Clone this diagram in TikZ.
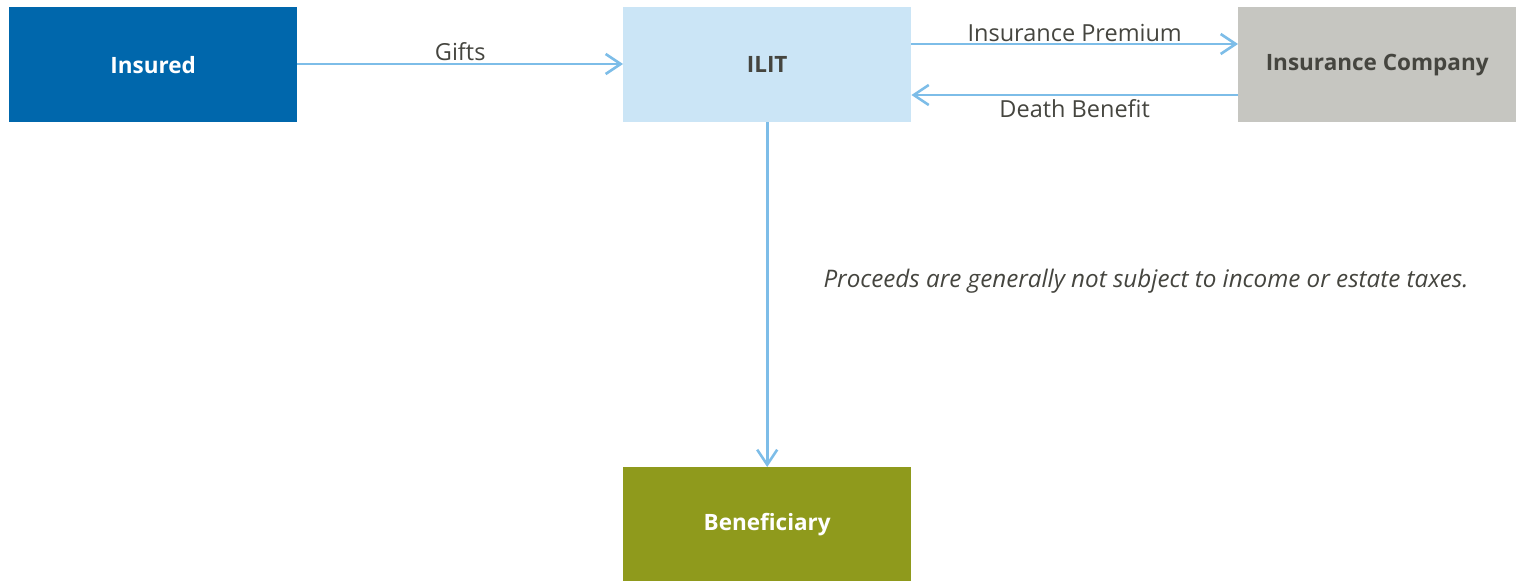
\documentclass[tikz,border=0pt]{standalone}
\usepackage{fontspec}
\setmainfont{Open Sans}
\usetikzlibrary{arrows.meta}
\definecolor{insblue}{HTML}{0067AC}
\definecolor{ilitblue}{HTML}{CBE5F6}
\definecolor{cogray}{HTML}{C6C6C1}
\definecolor{benolive}{HTML}{8F9A1C}
\definecolor{arrowblue}{HTML}{7DBDE8}
\definecolor{txtgray}{HTML}{45453F}
\begin{document}
\begin{tikzpicture}[x=1pt,y=-1pt,
  box/.style={draw=none,minimum width=288pt,minimum height=115pt,inner sep=0pt,anchor=north west,font=\fontsize{22.5}{26}\selectfont\bfseries},
  conn/.style={draw=arrowblue,line width=2.6pt,-{Straight Barb[length=15pt,width=20pt,line width=2.6pt]}},
  lbl/.style={font=\fontsize{23.5}{28}\selectfont,text=txtgray}]
\useasboundingbox (0,0) rectangle (1516,581);
\node[box,fill=insblue,text=white] (ins) at (9,7) {Insured};
\node[box,fill=ilitblue,text=txtgray] (ilit) at (623,7) {ILIT};
\node[box,fill=cogray,text=txtgray,minimum width=278pt] (co) at (1238,7) {Insurance Company};
\node[box,fill=benolive,text=white,minimum height=114pt] (ben) at (623,467) {Beneficiary};
\draw[conn] (ins.east |- 0,64) -- (ilit.west |- 0,64) node[midway,lbl,above=-1pt] {Gifts};
\draw[conn] (ilit.east |- 0,44) -- (co.west |- 0,44) node[midway,lbl,above=-2pt] {Insurance Premium};
\draw[conn] (co.west |- 0,95) -- (ilit.east |- 0,95) node[midway,lbl,below=0pt] {Death Benefit};
\draw[conn] (ilit.south) -- (ben.north);
\node[lbl,font=\fontsize{24.2}{28}\selectfont\itshape,anchor=west] (note) at (820,281) {Proceeds are generally not subject to income or estate taxes.};
\end{tikzpicture}
\end{document}
